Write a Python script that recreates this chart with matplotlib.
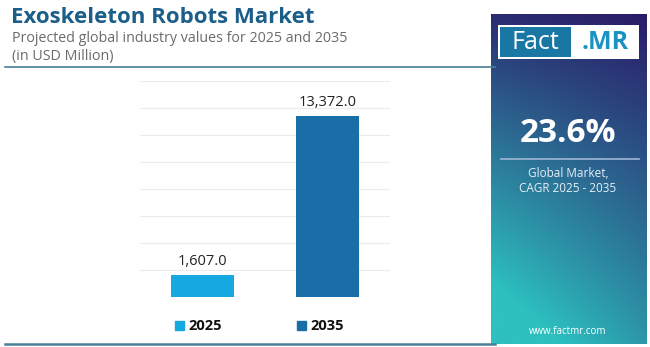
import matplotlib
matplotlib.use("Agg")
import matplotlib.pyplot as plt
import numpy as np
from matplotlib.patches import Rectangle

plt.rcParams["font.family"] = ["Open Sans", "DejaVu Sans"]

# Data
years = ["2025", "2035"]
values = [1607.0, 13372.0]
bar_colors = ["#16a8e0", "#1a6ea8"]
cagr = "23.6%"

W, H = 650, 347
fig = plt.figure(figsize=(W / 100, H / 100), dpi=100)


def px_axes(x0, y0, x1, y1):
    # pixel box (top-left origin) to figure axes
    return fig.add_axes([x0 / W, 1 - y1 / H, (x1 - x0) / W, (y1 - y0) / H])


# right panel with gradient (drawn first so overlay text sits on top)
panel = px_axes(491, 14, 646, 344)
yy, xx = np.mgrid[0:1:200j, 0:1:100j]
t = np.clip(0.75 * yy + 0.35 * (1 - xx) * yy + 0.1 * (1 - xx), 0, 1)
top = np.array([0x2a, 0x1c, 0x68]) / 255
bot = np.array([0x2d, 0xc0, 0xbf]) / 255
img = top[None, None, :] * (1 - t[..., None]) + bot[None, None, :] * t[..., None]
panel.imshow(img, aspect="auto", extent=[0, 1, 1, 0])
panel.set_xlim(0, 1)
panel.set_ylim(1, 0)
panel.axis("off")

# overlay axes in pixel coords
bg = px_axes(0, 0, W, H)
bg.set_xlim(0, W)
bg.set_ylim(H, 0)
bg.axis("off")

# Title block
bg.text(11, 17, "Exoskeleton Robots Market", fontsize=16,
        fontweight="bold", color="#1b5e8a", va="center", ha="left")
bg.text(12, 38, "Projected global industry values for 2025 and 2035",
        fontsize=10.3, color="#6b6b6b", va="center", ha="left")
bg.text(12, 56, "(in USD Million)", fontsize=10.3, color="#6b6b6b",
        va="center", ha="left")

# separator lines
bg.plot([5, 495], [67, 67], color="#4a7f9a", lw=1.2)
bg.plot([5, 495], [344, 344], color="#4a7f9a", lw=1.8)

# bar chart
ax = px_axes(140, 81, 390, 297)
x = np.arange(len(years))
ax.bar(x, values, width=0.5, color=bar_colors, zorder=3)
ax.set_xlim(-0.5, 1.5)
ax.set_ylim(0, 16000)
ax.set_yticks(np.arange(0, 16001, 2000))
ax.yaxis.grid(True, color="#ececec", lw=0.8)
ax.set_axisbelow(True)
ax.tick_params(left=False, bottom=False, labelleft=False, labelbottom=False)
for s in ax.spines.values():
    s.set_visible(False)
for xi, v in zip(x, values):
    ax.text(xi, v + 500, f"{v:,.1f}", ha="center", va="bottom", fontsize=10.5,
            color="#222222")

# legend
leg_x = [175, 297]
for lx, yr, c in zip(leg_x, years, bar_colors):
    bg.add_patch(Rectangle((lx, 321), 9, 9, color=c))
    bg.text(lx + 13, 326, yr, fontsize=10.5, fontweight="bold", color="#111111",
            va="center", ha="left")

# logo
bg.add_patch(Rectangle((498, 25), 141, 34, facecolor="white", edgecolor="none"))
bg.add_patch(Rectangle((500, 27), 71, 30, facecolor="#1877a3", edgecolor="none"))
bg.text(535, 42, "Fact", fontsize=18, color="white", ha="center", va="center")
bg.text(605, 42, ".MR", fontsize=18, fontweight="bold", color="#1a93c2",
        ha="center", va="center")

bg.text(568, 133, cagr, fontsize=24, fontweight="bold", color="white",
        ha="center", va="center")
bg.plot([501, 639], [159, 159], color="#9fb6d6", lw=1.2)
bg.text(568, 173, "Global Market,", fontsize=8.5, color="#e8eef8",
        ha="center", va="center")
bg.text(568, 188, "CAGR 2025 - 2035", fontsize=8.5, color="#e8eef8",
        ha="center", va="center")
bg.text(568, 332, "www.factmr.com", fontsize=7, color="white",
        ha="center", va="center")

fig.savefig("out.png", dpi=100)
